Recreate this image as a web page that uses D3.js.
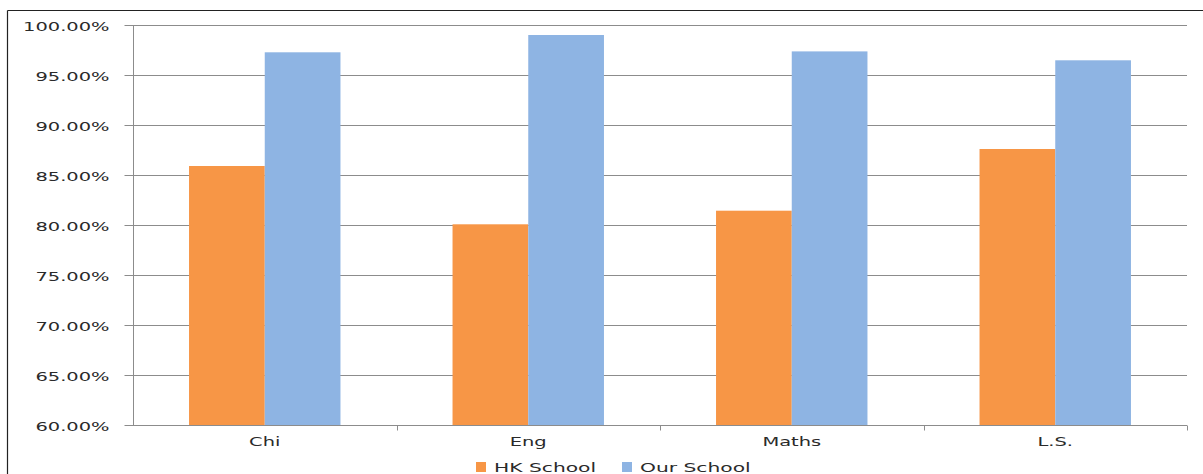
<!DOCTYPE html>
<html>
<head>
<meta charset="utf-8">
<script src="https://cdn.jsdelivr.net/npm/d3@7"></script>
<style>
  html, body { margin: 0; padding: 0; background: #fff; }
  svg { display: block; }
  text { font-family: "DejaVu Sans", Verdana, sans-serif; fill: #2a2a2a; }
</style>
</head>
<body>
<svg id="chart" width="1203" height="474"></svg>
<script>
// Pass rates by subject
const subjects = ["Chi", "Eng", "Maths", "L.S."];
const seriesNames = ["HK School", "Our School"];
const hkSchool = [85.9, 80.07, 81.43, 87.6];
const ourSchool = [97.27, 99.0, 97.36, 96.47];
const yTicks = [60, 65, 70, 75, 80, 85, 90, 95, 100];
const colors = ["#F79646", "#8EB4E3"];

const svg = d3.select("#chart");
const W = 1203, H = 474;
const plot = { left: 133, right: 1187, top: 25, bottom: 425 };
const stretch = 1.62; // wide lettering

// outer frame (top and left edges visible)
svg.append("line").attr("x1", 7.5).attr("x2", W).attr("y1", 10.5).attr("y2", 10.5)
  .attr("stroke", "#222").attr("stroke-width", 1.2);
svg.append("line").attr("x1", 7.5).attr("x2", 7.5).attr("y1", 10.5).attr("y2", H)
  .attr("stroke", "#222").attr("stroke-width", 1.2);

const x0 = d3.scaleBand().domain(subjects).range([plot.left, plot.right]).paddingInner(0).paddingOuter(0);
const x1 = d3.scaleBand().domain(seriesNames).range([0, x0.bandwidth()]).paddingInner(0).paddingOuter(0.74);
const y = d3.scaleLinear().domain([60, 100]).range([plot.bottom, plot.top]);

// gridlines
svg.append("g").selectAll("line").data(yTicks.slice(1)).join("line")
  .attr("x1", plot.left).attr("x2", plot.right)
  .attr("y1", d => Math.round(y(d)) + 0.5).attr("y2", d => Math.round(y(d)) + 0.5)
  .attr("stroke", "#8c8c8c").attr("stroke-width", 1);

// bars
const rows = subjects.map((s, i) => ({ subject: s, values: [hkSchool[i], ourSchool[i]] }));
const groups = svg.append("g").selectAll("g").data(rows).join("g")
  .attr("transform", d => `translate(${x0(d.subject)},0)`);
groups.selectAll("rect").data(d => d.values.map((v, k) => ({ key: seriesNames[k], v, k }))).join("rect")
  .attr("x", d => x1(d.key)).attr("width", x1.bandwidth())
  .attr("y", d => y(d.v)).attr("height", d => y(60) - y(d.v))
  .attr("fill", d => colors[d.k]);

// y axis
const yAxis = svg.append("g").attr("transform", `translate(${plot.left + 0.5},0)`)
  .call(d3.axisLeft(y).tickValues(yTicks).tickSize(9).tickPadding(0).tickFormat(d => d.toFixed(2) + "%"));
yAxis.select(".domain").attr("stroke", "#8c8c8c").attr("d", `M0,${plot.top}V${plot.bottom}`);
yAxis.selectAll(".tick line").attr("stroke", "#8c8c8c");
yAxis.selectAll(".tick text")
  .attr("x", null).attr("dy", null)
  .attr("text-anchor", "end")
  .attr("font-size", 12)
  .attr("font-family", "DejaVu Sans")
  .attr("fill", "#2a2a2a")
  .attr("transform", `translate(-24,5) scale(${stretch},1)`);

// x axis
const xAxis = svg.append("g").attr("transform", `translate(0,${plot.bottom + 0.5})`)
  .call(d3.axisBottom(x0).tickSize(0).tickPadding(0));
xAxis.select(".domain").attr("stroke", "#8c8c8c").attr("d", `M${plot.left},0H${plot.right}`);
xAxis.selectAll(".tick text")
  .attr("y", null).attr("dy", null)
  .attr("font-size", 12)
  .attr("font-family", "DejaVu Sans")
  .attr("fill", "#2a2a2a")
  .attr("transform", `translate(0,20) scale(${stretch},1)`);
// category boundary ticks
const bounds = subjects.map(s => x0(s)).concat([plot.right]);
xAxis.append("g").selectAll("line").data(bounds.slice(1)).join("line")
  .attr("x1", d => Math.round(d) + 0.5).attr("x2", d => Math.round(d) + 0.5)
  .attr("y1", 0).attr("y2", 5).attr("stroke", "#8c8c8c");

// legend
const legend = svg.append("g");
const legendItems = [{ name: seriesNames[0], x: 476 }, { name: seriesNames[1], x: 622 }];
legendItems.forEach((it, i) => {
  legend.append("rect").attr("x", it.x).attr("y", 462).attr("width", 10).attr("height", 10).attr("fill", colors[i]);
  legend.append("text").attr("font-size", 12.5)
    .attr("transform", `translate(${it.x + 18},472) scale(${stretch},1)`)
    .text(it.name);
});
</script>
</body>
</html>
